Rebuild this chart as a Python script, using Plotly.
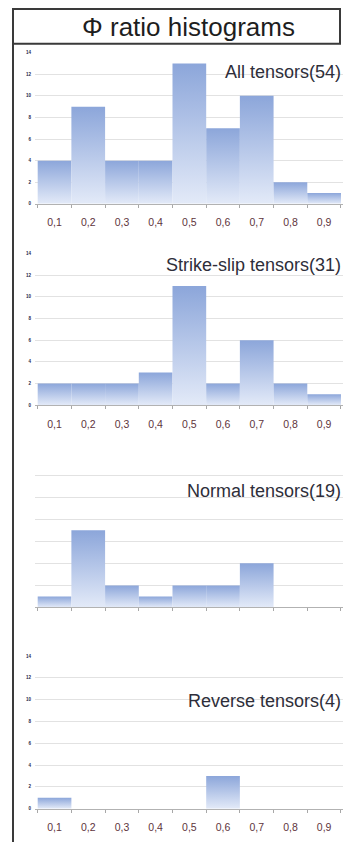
import plotly.graph_objects as go

# Phi ratio bins (category labels) and counts per tensor group
bins = ["0,1", "0,2", "0,3", "0,4", "0,5", "0,6", "0,7", "0,8", "0,9"]
all_counts = [4, 9, 4, 4, 13, 7, 10, 2, 1]
strike_slip_counts = [2, 2, 2, 3, 11, 2, 6, 2, 1]
normal_counts = [1, 7, 2, 1, 2, 2, 4, 0, 0]
reverse_counts = [1, 0, 0, 0, 0, 3, 0, 0, 0]
panel_titles = ["All tensors(54)", "Strike-slip tensors(31)",
                "Normal tensors(19)", "Reverse tensors(4)"]
y_ticks = [0, 2, 4, 6, 8, 10, 12, 14]

W, H = 343, 845
FONT = "Liberation Sans, Arial, sans-serif"

def py(px):
    return 1 - px / H

# pixel rows: (baseline, top gridline, label row, show tick labels)
panels = [
    (all_counts, 203, 51, 70, True),
    (strike_slip_counts, 405.5, 253, 265, True),
    (normal_counts, 609, 454, 491.5, False),
    (reverse_counts, 811.5, 658, 703, True),
]

fig = go.Figure()
grad = [[0, "#e3eaf8"], [1, "#8ca6da"]]

for k, (counts, base, top, lab_y, show_labels) in enumerate(panels, start=1):
    xa = "x" if k == 1 else f"x{k}"
    ya = "y" if k == 1 else f"y{k}"
    # one filled polygon per bin so each bar carries its own vertical gradient
    for i, c in enumerate(counts):
        if c <= 0:
            continue
        fig.add_trace(go.Scatter(
            x=[i - 0.5, i + 0.5, i + 0.5, i - 0.5, i - 0.5],
            y=[0, 0, c, c, 0],
            mode="lines", fill="toself",
            line=dict(width=0, color="rgba(0,0,0,0)"),
            fillgradient=dict(type="vertical", colorscale=grad),
            hoverinfo="skip", showlegend=False,
            xaxis=xa, yaxis=ya,
        ))
    xkey = "xaxis" if k == 1 else f"xaxis{k}"
    ykey = "yaxis" if k == 1 else f"yaxis{k}"
    fig.layout[xkey] = dict(
        domain=[35 / W, 1], anchor=ya,
        range=[-0.58, 8.56], showgrid=False, zeroline=False,
        showline=True, linecolor="#b2b2b2", linewidth=1,
        tickmode="array", tickvals=list(range(len(bins))), ticktext=bins,
        ticks="", showticklabels=show_labels, ticklabelstandoff=9,
        tickfont=dict(family=FONT, size=10.5, color="#5e343c"),
        minor=dict(tickmode="array",
                   tickvals=[i - 0.5 for i in range(len(bins) + 1)],
                   ticks="outside", ticklen=3, tickcolor="#a8a8a8",
                   showgrid=False),
        fixedrange=True,
    )
    fig.layout[ykey] = dict(
        domain=[py(base), py(top)], anchor=xa,
        range=[0, 14], tickmode="array", tickvals=y_ticks,
        showgrid=True, gridcolor="#e2e2e2", gridwidth=1,
        zeroline=False, showline=False, ticks="",
        showticklabels=show_labels, ticklabelstandoff=3,
        tickfont=dict(family=FONT, size=4.5, color="#1e1e48",
                      weight="bold"),
        fixedrange=True,
    )
    fig.add_annotation(
        x=1, y=py(lab_y), xref="paper", yref="paper",
        xanchor="right", yanchor="middle", showarrow=False,
        text=panel_titles[k - 1],
        font=dict(family=FONT, size=18, color="#2e2e3a"),
    )

# framed title and the left frame edge
fig.add_shape(type="rect", xref="paper", yref="paper",
              x0=13 / W, x1=340 / W, y0=py(42), y1=py(7),
              line=dict(color="#3a3a3a", width=2))
fig.add_shape(type="line", xref="paper", yref="paper",
              x0=13 / W, x1=13 / W, y0=py(7), y1=0,
              line=dict(color="#3a3a3a", width=2))
fig.add_annotation(
    x=189 / W, y=py(25), xref="paper", yref="paper",
    xanchor="center", yanchor="middle", showarrow=False,
    text="Φ ratio histograms",
    font=dict(family=FONT, size=26, color="#1e1e1e"),
)

fig.update_layout(
    width=W, height=H, margin=dict(l=0, r=0, t=0, b=0),
    paper_bgcolor="white", plot_bgcolor="white",
    showlegend=False,
)

fig.write_html("out.html", config={"displayModeBar": False})
